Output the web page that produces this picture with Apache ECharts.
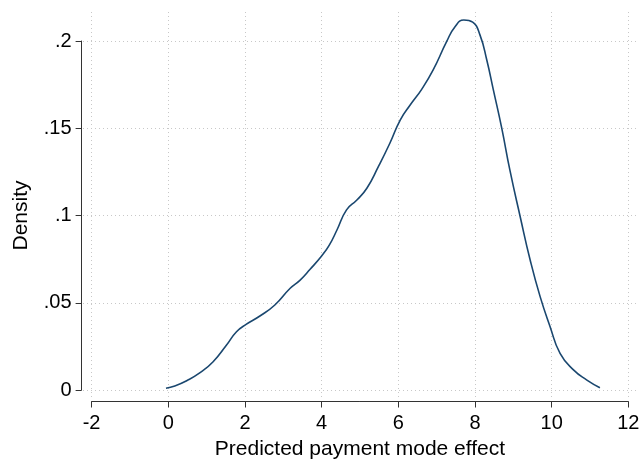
<!DOCTYPE html>
<html>
<head>
<meta charset="utf-8">
<script src="https://cdn.jsdelivr.net/npm/echarts@6/dist/echarts.min.js"></script>
<style>html,body{margin:0;padding:0;background:#fff;}#c{width:642px;height:459px;}</style>
</head>
<body>
<div id="c"></div>
<script>
// Data (kernel density curve)
const xVals = [-0.06, 0.17, 0.48, 0.83, 1.17, 1.52, 1.78, 2.03, 2.39, 2.78, 3.18, 3.44, 3.70, 4.0, 4.2, 4.4, 4.65, 4.92, 5.18, 5.48, 5.78, 6.05, 6.31, 6.61, 6.91, 7.26, 7.48, 7.71, 7.94, 8.13, 8.31, 8.48, 8.70, 8.91, 9.18, 9.44, 9.70, 9.96, 10.22, 10.57, 10.92, 11.26];
const yVals = [0.001, 0.0023, 0.0053, 0.0099, 0.0162, 0.0258, 0.0334, 0.0376, 0.0424, 0.0487, 0.0583, 0.063, 0.0692, 0.0768, 0.083, 0.0917, 0.1032, 0.1089, 0.1156, 0.128, 0.1414, 0.1547, 0.1633, 0.1723, 0.1834, 0.1996, 0.2082, 0.212, 0.2108, 0.2035, 0.189, 0.172, 0.1499, 0.1261, 0.0993, 0.0745, 0.0535, 0.0363, 0.021, 0.0115, 0.0057, 0.0013];
const xTicks = [-2, 0, 2, 4, 6, 8, 10, 12];
const yTicks = [0, 0.05, 0.1, 0.15, 0.2];
const yTickLabels = ['0', '.05', '.1', '.15', '.2'];
const xTitle = 'Predicted payment mode effect';
const yTitle = 'Density';

// Layout (pixels)
const W = 642, H = 459;
const axL = 91.6, axR = 628.3, axT = 41, axB = 390;     // axis extents
const plotL = 83, plotR = 637, plotT = 9, plotB = 397;  // plot region (gridlines)
const xLo = xTicks[0], xHi = xTicks[xTicks.length - 1];
const yLo = yTicks[0], yHi = yTicks[yTicks.length - 1];
const xs = (xHi - xLo) / (axR - axL), ys = (yHi - yLo) / (axB - axT);

const font = 'Liberation Sans, Arial, sans-serif';
const axisColor = '#333';
const gridStyle = { color: '#c8c8c8', width: 1, type: [1, 3] };

const chart = echarts.init(document.getElementById('c'), null, { renderer: 'canvas' });
const gridLines = [];
xTicks.forEach(v => gridLines.push({ xAxis: v }));
yTicks.forEach(v => gridLines.push({ yAxis: v }));

chart.setOption({
  animation: false,
  backgroundColor: '#fff',
  grid: [
    { left: plotL, right: W - plotR, top: plotT, bottom: H - plotB, outerBoundsMode: 'none', containLabel: false },
    { left: axL, right: W - axR, top: axT, bottom: H - axB, outerBoundsMode: 'none', containLabel: false }
  ],
  xAxis: [
    { gridIndex: 0, type: 'value', min: xLo - (axL - plotL) * xs, max: xHi + (plotR - axR) * xs, show: false },
    {
      gridIndex: 1, type: 'value', min: xLo, max: xHi, interval: 2, offset: 11.5,
      axisLine: { show: true, onZero: false, lineStyle: { color: axisColor, width: 1 } },
      axisTick: { show: true, length: 6, lineStyle: { color: axisColor, width: 1 } },
      axisLabel: { fontFamily: font, fontSize: 20, color: '#000', margin: 12 },
      splitLine: { show: false },
      name: xTitle, nameLocation: 'middle', nameGap: 33,
      nameTextStyle: { fontFamily: font, fontSize: 21, color: '#000' }
    }
  ],
  yAxis: [
    { gridIndex: 0, type: 'value', min: yLo - (plotB - axB) * ys, max: yHi + (axT - plotT) * ys, show: false },
    {
      gridIndex: 1, type: 'value', min: yLo, max: yHi, interval: 0.05, offset: 10,
      axisLine: { show: true, onZero: false, lineStyle: { color: axisColor, width: 1 } },
      axisTick: { show: true, length: 6, lineStyle: { color: axisColor, width: 1 } },
      axisLabel: { fontFamily: font, fontSize: 20, color: '#000', margin: 10,
        formatter: v => { const i = yTicks.findIndex(t => Math.abs(t - v) < 1e-9); return i >= 0 ? yTickLabels[i] : ''; } },
      splitLine: { show: false },
      name: yTitle, nameLocation: 'middle', nameGap: 50, nameRotate: 90,
      nameTextStyle: { fontFamily: font, fontSize: 21, color: '#000' }
    }
  ],
  series: [
    {
      type: 'line', xAxisIndex: 0, yAxisIndex: 0, data: [], silent: true, z: 1,
      markLine: { silent: true, symbol: ['none', 'none'], label: { show: false },
        lineStyle: gridStyle, emphasis: { disabled: true }, data: gridLines }
    },
    {
      type: 'line', xAxisIndex: 1, yAxisIndex: 1, z: 5,
      data: xVals.map((x, i) => [x, yVals[i]]),
      smooth: 0.5, showSymbol: false, clip: false,
      lineStyle: { color: '#1a476f', width: 1.6 }
    }
  ]
});
</script>
</body>
</html>
